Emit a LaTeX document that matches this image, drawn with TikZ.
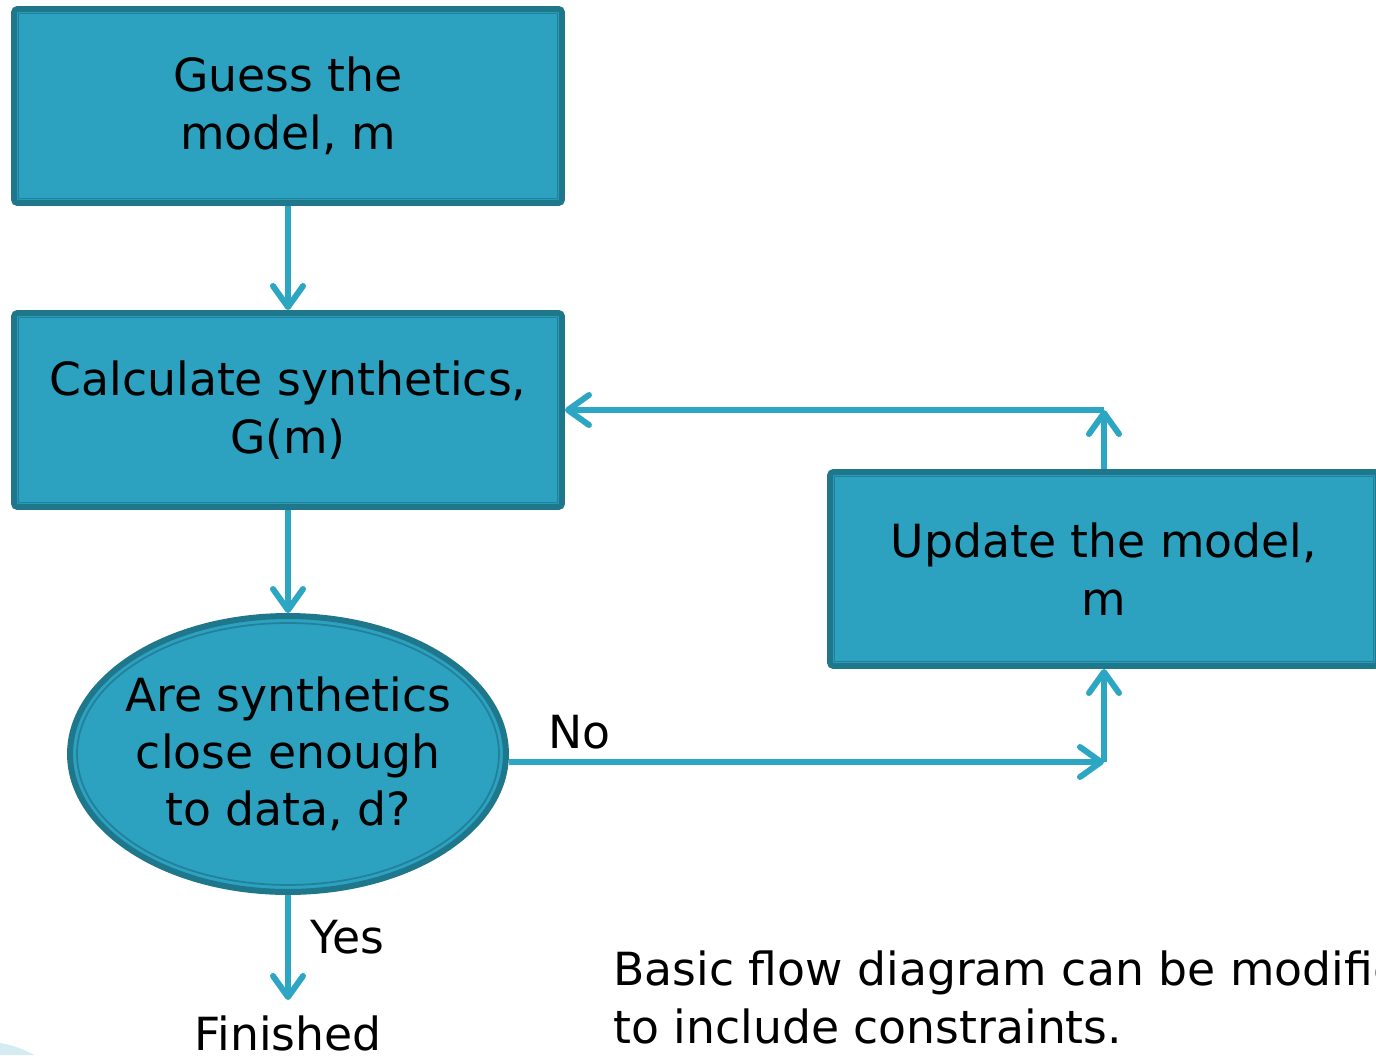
\documentclass[tikz,border=0pt]{standalone}
\usepackage{fontspec}
\setmainfont{DejaVu Sans}
\usetikzlibrary{arrows.meta,shapes.geometric}

\definecolor{boxfill}{HTML}{2CA2C0}
\definecolor{boxedge}{HTML}{1F778C}
\definecolor{boxline}{HTML}{22809A}
\definecolor{flowline}{HTML}{2DA6C4}
\definecolor{swoosh}{HTML}{D5EBF2}

\tikzset{
    stepbox/.style={rectangle, fill=boxfill, draw=boxedge, line width=0.12cm,
        minimum width=10.96cm, minimum height=3.88cm, align=center,
        rounded corners=2pt, font=\fontsize{26}{33}\selectfont},
    testbox/.style={ellipse, fill=boxfill, draw=boxedge, line width=0.12cm,
        minimum width=8.72cm, minimum height=5.52cm, inner sep=-0.6cm,
        align=center, font=\fontsize{26}{32.5}\selectfont},
    innerline/.style={draw=boxline, line width=0.035cm},
    flow/.style={draw=flowline, line width=0.12cm,
        -{Straight Barb[length=0.42cm, width=0.6cm, round]}},
    plaintext/.style={font=\fontsize{26}{33}\selectfont, inner sep=0pt}
}

\begin{document}
\begin{tikzpicture}[x=0.02cm, y=-0.02cm]

    % page frame
    \useasboundingbox (0,0) rectangle (1376,1055);

    % faint swoosh in the corner
    \fill[swoosh] (0,1043) .. controls (12,1045) and (24,1049) .. (34,1055)
        -- (0,1055) -- cycle;

    % process boxes
    \node[stepbox] (guess) at (288,106) {Guess the\\model, m};
    \node[stepbox] (calc) at (288,410) {Calculate synthetics,\\G(m)};
    \node[testbox] (test) at (288,754) {Are synthetics\\close enough\\to data, d?};
    \node[stepbox] (update) at (1104,569) {Update the model,\\m};

    % thin inner outlines
    \foreach \n in {guess,calc,update} {
        \draw[innerline] ([shift={(0.15cm,0.15cm)}]\n.south west)
            rectangle ([shift={(-0.15cm,-0.15cm)}]\n.north east);
    }
    \draw[innerline] (test.center) ellipse (4.22cm and 2.62cm);

    % end of the loop
    \node[plaintext, inner ysep=0.3cm, anchor=north] (fin) at (288,1000) {Finished};

    % main chain
    \draw[flow] (guess) -- (calc);
    \draw[flow] (calc) -- (test);
    \draw[flow] (test) -- (fin)
        node[pos=0.4, right=0.4cm, plaintext] {Yes};

    % no branch goes round through the update
    \coordinate (nocorner) at (1104,762);
    \coordinate (upcorner) at (1104,410);
    \draw[flow] (test.east |- nocorner) -- (nocorner)
        node[pos=0.118, above=0.2cm, plaintext] {No};
    \draw[flow] (nocorner) -- (update);
    \draw[flow] (update) -- (upcorner);
    \draw[flow] (upcorner) -- (calc);

    % side note
    \node[plaintext, anchor=north west, align=left] (note) at (613,950)
        {Basic flow diagram can be modified\\to include constraints.};

\end{tikzpicture}
\end{document}
